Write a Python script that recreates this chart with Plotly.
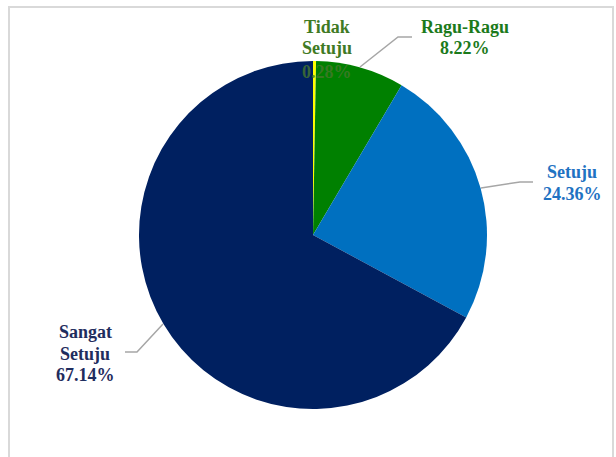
import plotly.graph_objects as go

categories = ["Tidak Setuju", "Ragu-Ragu", "Setuju", "Sangat Setuju"]
values = [0.28, 8.22, 24.36, 67.14]
slice_colors = ["#ffff00", "#008000", "#0070c0", "#002060"]
label_lines = [["Tidak", "Setuju", "0.28%"], ["Ragu-Ragu", "8.22%"], ["Setuju", "24.36%"], ["Sangat", "Setuju", "67.14%"]]

W, H = 616, 457
cx, cy, r = 313, 235, 174

fig = go.Figure()
fig.add_trace(go.Pie(
    labels=categories, values=values, sort=False, direction="clockwise", rotation=0,
    marker=dict(colors=slice_colors, line=dict(width=0)),
    textinfo="none", hoverinfo="label+percent", showlegend=False,
    domain=dict(x=[(cx - r) / W, (cx + r) / W], y=[(H - cy - r) / H, (H - cy + r) / H]),
))

def px(x):
    return x / W

def py(y):
    return 1 - y / H

font = "Liberation Serif"
# labels: (lines, center x, first line y, color)
ann = [
    (label_lines[0][:2], 327, 27, "#3f7a24"),
    (label_lines[1], 465, 27, "#1b7a1b"),
    (label_lines[2], 572, 172, "#1f72c2"),
    (label_lines[3], 85, 332, "#1f2d5e"),
]
for lines, x, y0, col in ann:
    for i, t in enumerate(lines):
        fig.add_annotation(x=px(x), y=py(y0 + i * 21.5), xref="paper", yref="paper",
                           text="<b>" + t + "</b>", showarrow=False,
                           font=dict(family=font, size=18, color=col),
                           xanchor="center", yanchor="middle")
# 0.28% value drawn over the pie
fig.add_annotation(x=px(327), y=py(72), xref="paper", yref="paper",
                   text="<b>" + label_lines[0][2] + "</b>", showarrow=False,
                   font=dict(family=font, size=18, color="rgba(70,120,45,0.8)"),
                   xanchor="center", yanchor="middle")

# leader lines
leaders = [
    [(360, 67), (398, 37), (412, 37)],
    [(481, 188), (520, 182), (533, 182)],
    [(163, 324), (137, 352), (125, 352)],
]
shapes = []
for pts in leaders:
    path = "M " + " L ".join(f"{px(x)},{py(y)}" for x, y in pts)
    shapes.append(dict(type="path", path=path, xref="paper", yref="paper",
                       line=dict(color="#a6a6a6", width=1.5)))
# chart border
shapes.append(dict(type="rect", xref="paper", yref="paper", x0=px(9), x1=px(613), y0=py(470), y1=py(7),
                   line=dict(color="#d9d9d9", width=2)))

fig.update_layout(width=W, height=H, margin=dict(l=0, r=0, t=0, b=0),
                  paper_bgcolor="white", plot_bgcolor="white", shapes=shapes)

fig.write_html("out.html", config={"displayModeBar": False},
               post_script="document.body.style.margin='0';document.body.style.overflow='hidden';")
